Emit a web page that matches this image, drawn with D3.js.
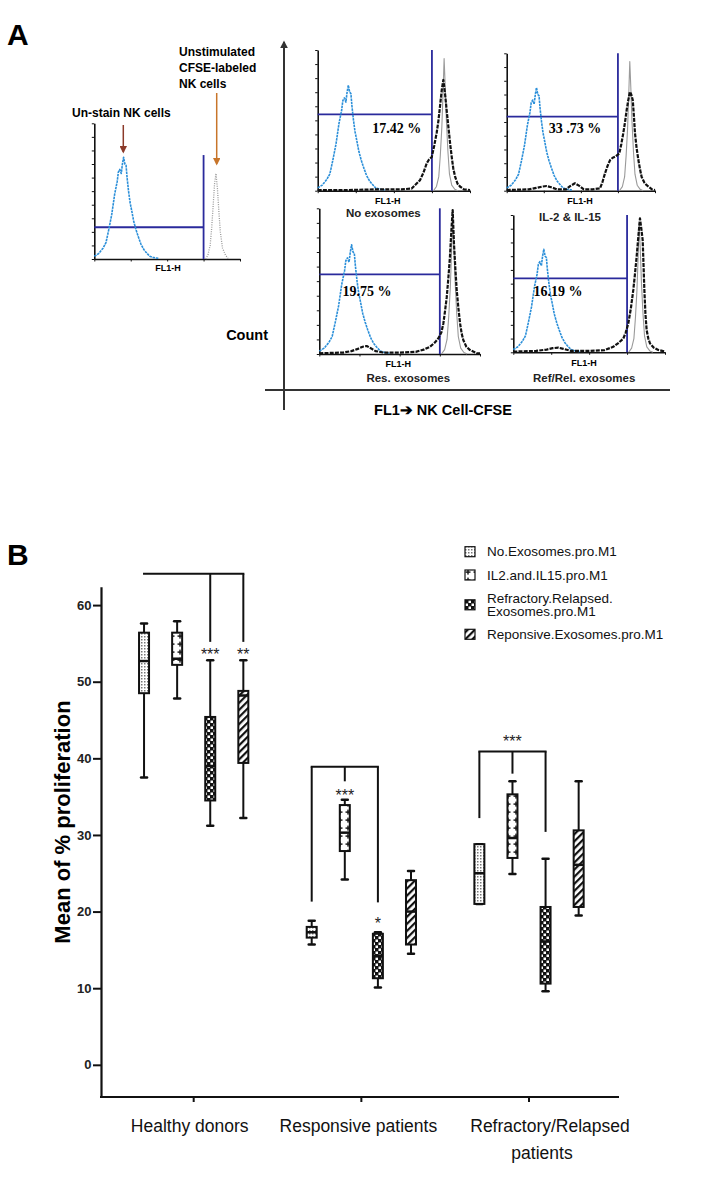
<!DOCTYPE html>
<html>
<head>
<meta charset="utf-8">
<script src="https://cdn.jsdelivr.net/npm/d3@7"></script>
<style>
body { margin: 0; background: #fff; }
svg { display: block; }
</style>
</head>
<body>
<svg width="703" height="1177"></svg>
<script>
// ---------- panel A : histogram traces, [channel 0-100, count 0-100]
var unstainedCounts = [[0,2],[3,4],[6,8],[8,12],[10,22],[12,33],[14,48],[15.7,57],[16.5,64],[17.5,66],[18.5,63],[19.3,70],[20.1,75],[21,70],[21.8,69],[22.5,60],[23.5,50],[24.5,42],[25.6,36],[27,28],[28.5,22],[30,17],[32,11],[34,7],[35.5,5],[38,2],[41,1],[44,0.5]];
var unstimLeftCounts = [[76.5,0],[78,3],[79.5,10],[80.5,22],[81.5,38],[82.5,55],[83.5,63],[84.5,52],[85.5,35],[86.5,20],[88,8],[90,3],[92,0]];
var unstimCounts = [[76,0],[78,3],[79.5,10],[80.5,25],[81.5,45],[82.3,70],[83,94],[83.7,75],[84.5,50],[85.5,28],[86.5,12],[88,4],[90,1],[92,0]];
var noExoCounts = [[0,0.5],[20,0.5],[40,1],[55,1],[61.7,1.5],[64,4],[67.2,7.5],[69.5,13],[71.6,19.5],[73,22],[74.9,24],[76.5,32],[78.1,41],[79.3,50],[80.3,60],[81.5,72],[82.5,78.7],[83.6,69],[84.7,57],[85.8,45.5],[87,33],[88,24],[89,16],[90.2,10],[91.8,5],[93.4,3],[96,1],[100,0.5]];
var il2Counts = [[0,0.5],[15,1],[20,2],[24,3],[27,3.4],[30,2.5],[34,1],[40,1],[43,3.5],[46,5.4],[49,3.5],[52,1],[58,1],[62.9,1.7],[64.5,6],[66.3,12.7],[68,18],[69.7,22.3],[71.5,24],[73,24.7],[75.9,27],[77.3,34],[78.6,41.8],[79.8,50],[80.9,58.7],[82,66],[83.1,72],[84,70],[85,66],[85.8,54],[86.5,41.8],[87.6,31],[88.8,22.3],[90,15],[91,10],[92.8,6],[94.4,4],[98,1],[100,0.5]];
var resExoCounts = [[0,0.5],[15,1],[20,2],[24,3.5],[27,5],[29.5,5.5],[32,4],[35,2],[40,1],[50,1],[60,1.5],[65,3],[68.9,5],[72,8],[74.1,10.8],[76,15],[77.2,21],[78.3,30],[79.3,39],[80.3,52],[81.3,66.8],[82.2,85],[83,98.8],[83.8,76],[84.7,58],[85.5,44],[86.6,31],[87.6,21],[88.6,14],[89.6,9.6],[91.5,5],[93.8,2.7],[98,0.5],[100,0.5]];
var refRelExoCounts = [[0,0.5],[15,1],[22,2],[26,3],[29.7,3.4],[33,2.5],[38,1],[50,1],[60,1.5],[65.9,4],[69,6.5],[72.5,10],[74,14],[75.8,21],[77.5,32],[79.1,45.4],[80.2,57],[81.3,69.6],[82.4,84],[83.5,97.5],[84.4,90],[85.3,81.5],[85.9,62],[86.4,45.4],[87.1,28],[87.9,16.2],[89,10],[90.1,6.5],[92.5,3.5],[95.6,1.7],[100,0.5]];
var panelTitles = ["No exosomes", "IL-2 & IL-15", "Res. exosomes", "Ref/Rel. exosomes"];
var panelPercents = ["17.42 %", "33 .73 %", "19.75 %", "16.19 %"];

// ---------- panel B : box plots, [min, q1, median, q3, max]
var groups = ["Healthy donors", "Responsive patients", "Refractory/Relapsed patients"];
var groupLabelLines = [["Healthy donors"], ["Responsive patients"], ["Refractory/Relapsed", "patients"]];
var series = ["No.Exosomes.pro.M1", "IL2.and.IL15.pro.M1", "Refractory.Relapsed.Exosomes.pro.M1", "Reponsive.Exosomes.pro.M1"];
var legendLines = [["No.Exosomes.pro.M1"], ["IL2.and.IL15.pro.M1"], ["Refractory.Relapsed.", "Exosomes.pro.M1"], ["Reponsive.Exosomes.pro.M1"]];
var healthyBoxes = [[37.5,48.5,52.7,56.4,57.6],[47.8,52.2,53.0,56.4,57.9],[31.2,34.5,39.0,45.4,52.8],[32.2,39.4,48.2,48.8,52.8]];
var responsiveBoxes = [[15.7,16.6,17.3,18.0,18.8],[24.2,27.9,30.3,33.9,34.6],[10.1,11.3,14.2,17.1,17.3],[14.5,15.7,20.0,24.1,25.3]];
var refractoryBoxes = [[21.0,21.0,25.0,28.8,28.8],[24.9,27.0,29.6,35.3,37.0],[9.6,10.6,16.1,20.6,26.9],[19.5,20.6,26.1,30.6,37.0]];
var yTicks = [0, 10, 20, 30, 40, 50, 60];
// significance brackets: group, first/last series, bar level, drop lines [series, end level]
var brackets = [
  {group: 0, from: 0, to: 3, level: 64.1, drops: [[2, 55.2], [3, 55.2]]},
  {group: 1, from: 0, to: 2, level: 38.9, drops: [[0, 21.3], [1, 37.0], [2, 21.2]]},
  {group: 2, from: 0, to: 2, level: 40.9, drops: [[0, 32.2], [1, 38.0], [2, 30.4]]}
];
var stars = [[0, 2, "***", 53.9], [0, 3, "**", 53.9], [1, 1, "***", 35.5], [1, 2, "*", 18.8], [2, 1, "***", 42.5]];

var FONT = "'Liberation Sans', Arial, sans-serif";
var svg = d3.select("svg");
var defs = svg.append("defs");

// ================= PANEL A =================
svg.append("text").attr("x", 7).attr("y", 45).text("A")
  .style("font", "bold 30px " + FONT);

var gateColor = "#2a2a9c";

var histPanels = [
  {x0: 94.3, x1: 240, y0: 123.3, y1: 259, gateY: 23.4, gateTop: 76.6,
   curves: [[unstainedCounts, "blue"], [unstimLeftCounts, "greyDot"]], lx: 168, ly: 268},
  {x0: 317.7, x1: 470, y0: 50, y1: 190.7, gateY: 54.3, gateTop: 100,
   curves: [[unstainedCounts, "blue"], [unstimCounts, "grey"], [noExoCounts, "black"]],
   lx: 387.7, ly: 201, tx: 383.3, ty: 213.3, px: 396.7, py: 128.3},
  {x0: 506.7, x1: 655, y0: 53.3, y1: 190.7, gateY: 53.9, gateTop: 100,
   curves: [[unstainedCounts, "blue"], [unstimCounts, "grey"], [il2Counts, "black"]],
   lx: 580, ly: 201, tx: 570, ty: 216.7, px: 575, py: 128.3},
  {x0: 319.3, x1: 480, y0: 208.3, y1: 354, gateY: 54.7, gateTop: 100,
   curves: [[unstainedCounts, "blue"], [unstimCounts, "grey"], [resExoCounts, "black"]],
   lx: 398.3, ly: 364, tx: 408.3, ty: 378.3, px: 367, py: 291.7},
  {x0: 513.3, x1: 665, y0: 215, y1: 352.3, gateY: 53.9, gateTop: 100,
   curves: [[unstainedCounts, "blue"], [unstimCounts, "grey"], [refRelExoCounts, "black"]],
   lx: 584, ly: 362.7, tx: 584.2, ty: 378.3, px: 558, py: 291.7}
];

var curveStyle = {
  blue:    {stroke: "#2b8fd9", width: 1.6, dash: "2.5,0.8"},
  black:   {stroke: "#111",    width: 2.2, dash: "4,1.2"},
  grey:    {stroke: "#9a9a9a", width: 1.1, dash: null},
  greyDot: {stroke: "#9a9a9a", width: 1.3, dash: "1,1.3"}
};

histPanels.forEach(function(p, i){
  var xs = d3.scaleLinear().domain([0, 100]).range([p.x0, p.x1]);
  var ys = d3.scaleLinear().domain([0, 100]).range([p.y1, p.y0]);
  var xLog = d3.scaleLog().domain([1, 10000]).range([p.x0, p.x1]);
  var g = svg.append("g").attr("class", "hist");

  // axes
  g.append("g").attr("transform", "translate(" + p.x0 + ",0)")
    .call(d3.axisLeft(ys).tickValues(d3.range(0, 101, 10)).tickSize(2.5).tickFormat("").tickSizeOuter(0));
  g.append("g").attr("transform", "translate(0," + p.y1 + ")")
    .call(d3.axisBottom(xLog).ticks(4).tickSize(2.5).tickFormat("").tickSizeOuter(0));
  g.selectAll(".domain").attr("stroke", "#111").attr("stroke-width", 1.6);
  g.selectAll(".tick line").attr("stroke", "#111").attr("stroke-width", 1);

  // gate marker
  g.append("line").attr("x1", xs(0)).attr("x2", xs(75)).attr("y1", ys(p.gateY)).attr("y2", ys(p.gateY))
    .attr("stroke", gateColor).attr("stroke-width", 1.8);
  g.append("line").attr("x1", xs(75)).attr("x2", xs(75)).attr("y1", ys(p.gateTop)).attr("y2", ys(0))
    .attr("stroke", gateColor).attr("stroke-width", 1.8);

  var line = d3.line().x(function(d){ return xs(d[0]); }).y(function(d){ return ys(d[1]); });
  p.curves.forEach(function(c){
    var st = curveStyle[c[1]];
    g.append("path").attr("d", line(c[0])).attr("fill", "none")
      .attr("stroke", st.stroke).attr("stroke-width", st.width)
      .attr("stroke-dasharray", st.dash).attr("stroke-linejoin", "round");
  });

  g.append("text").attr("x", p.lx).attr("y", p.ly).attr("text-anchor", "middle")
    .attr("dominant-baseline", "central").text("FL1-H").style("font", "bold 9px " + FONT);
  if (i > 0) {
    g.append("text").attr("x", p.tx).attr("y", p.ty).attr("text-anchor", "middle")
      .attr("dominant-baseline", "central").text(panelTitles[i - 1])
      .style("font", "bold 11.5px " + FONT).attr("fill", "#222");
    g.append("text").attr("x", p.px).attr("y", p.py).attr("text-anchor", "middle")
      .attr("dominant-baseline", "central").text(panelPercents[i - 1])
      .style("font", "bold 14px 'Liberation Serif', 'Times New Roman', serif");
  }
});

// annotations of the control histogram
var noteFont = "bold 12px " + FONT;
svg.append("text").attr("x", 72).attr("y", 117).text("Un-stain NK cells").style("font", noteFont);
svg.append("text").attr("x", 179).attr("y", 56).text("Unstimulated").style("font", noteFont);
svg.append("text").attr("x", 179).attr("y", 72).text("CFSE-labeled").style("font", noteFont);
svg.append("text").attr("x", 179).attr("y", 88).text("NK cells").style("font", noteFont);

function arrowDown(x, yA, yB, color, id){
  defs.append("marker").attr("id", id).attr("viewBox", "0 0 10 10").attr("refX", 8).attr("refY", 5)
    .attr("markerWidth", 5).attr("markerHeight", 5).attr("orient", "auto")
    .append("path").attr("d", "M0,0L10,5L0,10z").attr("fill", color);
  svg.append("line").attr("x1", x).attr("x2", x).attr("y1", yA).attr("y2", yB)
    .attr("stroke", color).attr("stroke-width", 1.5).attr("marker-end", "url(#" + id + ")");
}
arrowDown(123.3, 125, 152, "#8b3a2a", "arrBrown");
arrowDown(216.7, 93, 164, "#c8752a", "arrOrange");

// big frame axes of the four histograms
defs.append("marker").attr("id", "arrUp").attr("viewBox", "0 0 10 10").attr("refX", 8).attr("refY", 5)
  .attr("markerWidth", 4).attr("markerHeight", 4).attr("orient", "auto")
  .append("path").attr("d", "M0,0L10,5L0,10z").attr("fill", "#333");
svg.append("line").attr("x1", 284).attr("x2", 284).attr("y1", 410).attr("y2", 42)
  .attr("stroke", "#333").attr("stroke-width", 2).attr("marker-end", "url(#arrUp)");
svg.append("line").attr("x1", 265).attr("x2", 670).attr("y1", 390).attr("y2", 390)
  .attr("stroke", "#333").attr("stroke-width", 2);
svg.append("text").attr("x", 268).attr("y", 335).attr("text-anchor", "end")
  .attr("dominant-baseline", "central").text("Count").style("font", "bold 14.5px " + FONT);
svg.append("text").attr("x", 443).attr("y", 410).attr("text-anchor", "middle")
  .attr("dominant-baseline", "central").text("FL1\u2794 NK Cell-CFSE").style("font", "bold 14.5px " + FONT);

// ================= PANEL B =================
svg.append("text").attr("x", 7).attr("y", 565).text("B")
  .style("font", "bold 30px " + FONT);

// fill patterns
var pDot = defs.append("pattern").attr("id", "pDot").attr("patternUnits", "userSpaceOnUse")
  .attr("width", 3).attr("height", 3);
pDot.append("rect").attr("width", 3).attr("height", 3).attr("fill", "#fff");
pDot.append("rect").attr("width", 1.5).attr("height", 1.5).attr("fill", "#777");

var pPlus = defs.append("pattern").attr("id", "pPlus").attr("patternUnits", "userSpaceOnUse")
  .attr("width", 8).attr("height", 8);
pPlus.append("rect").attr("width", 8).attr("height", 8).attr("fill", "#fff");
pPlus.append("rect").attr("x", 1.5).attr("y", 3.4).attr("width", 5).attr("height", 1.4).attr("fill", "#111");
pPlus.append("rect").attr("x", 3.3).attr("y", 1.6).attr("width", 1.4).attr("height", 5).attr("fill", "#111");

var pCheck = defs.append("pattern").attr("id", "pCheck").attr("patternUnits", "userSpaceOnUse")
  .attr("width", 6).attr("height", 6);
pCheck.append("rect").attr("width", 6).attr("height", 6).attr("fill", "#111");
pCheck.append("rect").attr("x", 0.5).attr("y", 0.5).attr("width", 2.5).attr("height", 2.5).attr("fill", "#fff");
pCheck.append("rect").attr("x", 3.5).attr("y", 3.5).attr("width", 2.5).attr("height", 2.5).attr("fill", "#fff");

var pHatch = defs.append("pattern").attr("id", "pHatch").attr("patternUnits", "userSpaceOnUse")
  .attr("width", 5).attr("height", 5).attr("patternTransform", "rotate(45)");
pHatch.append("rect").attr("width", 5).attr("height", 5).attr("fill", "#fff");
pHatch.append("rect").attr("width", 2.2).attr("height", 5).attr("fill", "#111");

var fills = ["url(#pDot)", "url(#pPlus)", "url(#pCheck)", "url(#pHatch)"];

var y = d3.scaleLinear().domain([-4.2, 62.4]).range([1097, 586.7]);
var x0 = d3.scaleBand().domain(groups).range([109.85, 612.85]);
var x1 = d3.scalePoint().domain(series).range([0, x0.bandwidth()]).padding(1.033);
function bx(gi, si){ return x0(groups[gi]) + x1(series[si]); }

// y axis
var yAxis = svg.append("g").attr("transform", "translate(101,0)")
  .call(d3.axisLeft(y).tickValues(yTicks).tickSize(8).tickPadding(1.5).tickSizeOuter(0));
yAxis.select(".domain").attr("stroke", "#111").attr("stroke-width", 2.2);
yAxis.selectAll(".tick line").attr("stroke", "#111").attr("stroke-width", 2);
yAxis.selectAll(".tick text").style("font", "bold 13px " + FONT).attr("fill", "#222");

svg.append("text").attr("transform", "translate(62,822) rotate(-90)")
  .attr("text-anchor", "middle").attr("dominant-baseline", "central")
  .text("Mean of % proliferation").style("font", "bold 22px " + FONT);

// x axis
var xAxis = svg.append("g").attr("transform", "translate(0,1097)")
  .call(d3.axisBottom(x0).tickSize(5).tickFormat(""));
xAxis.select(".domain").remove();
xAxis.selectAll(".tick line").attr("stroke", "#111").attr("stroke-width", 2);
svg.append("line").attr("x1", 100).attr("x2", 619).attr("y1", 1097).attr("y2", 1097)
  .attr("stroke", "#111").attr("stroke-width", 2.2);

var labelShift = [[-4], [-3], [21, 13]];
groupLabelLines.forEach(function(lines, gi){
  var cx = x0(groups[gi]) + x0.bandwidth() / 2;
  lines.forEach(function(t, li){
    svg.append("text").attr("x", cx + labelShift[gi][li]).attr("y", 1132 + li * 27)
      .attr("text-anchor", "middle").text(t).style("font", "17.5px " + FONT).attr("fill", "#111");
  });
});

// boxes
var allBoxes = [healthyBoxes, responsiveBoxes, refractoryBoxes];
var boxW = 10, capW = 6;
allBoxes.forEach(function(groupBoxes, gi){
  var gg = svg.append("g").attr("class", "group");
  gg.selectAll("g.box").data(groupBoxes).enter().append("g").attr("class", "box")
    .each(function(d, si){
      var b = d3.select(this), cx = bx(gi, si);
      b.append("line").attr("x1", cx).attr("x2", cx).attr("y1", y(d[0])).attr("y2", y(d[4]))
        .attr("stroke", "#111").attr("stroke-width", 2);
      [d[0], d[4]].forEach(function(v){
        b.append("line").attr("x1", cx - capW / 2).attr("x2", cx + capW / 2).attr("y1", y(v)).attr("y2", y(v))
          .attr("stroke", "#111").attr("stroke-width", 2.5).attr("stroke-linecap", "round");
      });
      b.append("rect").attr("x", cx - boxW / 2).attr("y", y(d[3])).attr("width", boxW)
        .attr("height", Math.max(1, y(d[1]) - y(d[3]))).attr("fill", fills[si])
        .attr("stroke", "#111").attr("stroke-width", 2);
      b.append("line").attr("x1", cx - boxW / 2).attr("x2", cx + boxW / 2).attr("y1", y(d[2])).attr("y2", y(d[2]))
        .attr("stroke", "#111").attr("stroke-width", 2.5);
    });
});

// significance brackets
brackets.forEach(function(br){
  svg.append("line").attr("x1", bx(br.group, br.from) - 1).attr("x2", bx(br.group, br.to) + 1)
    .attr("y1", y(br.level)).attr("y2", y(br.level)).attr("stroke", "#111").attr("stroke-width", 2);
  br.drops.forEach(function(dp){
    svg.append("line").attr("x1", bx(br.group, dp[0])).attr("x2", bx(br.group, dp[0]))
      .attr("y1", y(br.level)).attr("y2", y(dp[1])).attr("stroke", "#111").attr("stroke-width", 2);
  });
});
stars.forEach(function(s){
  svg.append("text").attr("x", bx(s[0], s[1])).attr("y", y(s[3]) + 8).attr("text-anchor", "middle")
    .text(s[2]).style("font", "16px " + FONT).attr("fill", "#222");
});

// legend
var legendRowY = [551.7, 575, 598, 634.3];
legendLines.forEach(function(lines, i){
  var iconY = legendRowY[i] + (lines.length - 1) * 6.8;
  svg.append("rect").attr("x", 465).attr("y", iconY - 5).attr("width", 10).attr("height", 10)
    .attr("fill", fills[i]).attr("stroke", "#111").attr("stroke-width", 1.2);
  lines.forEach(function(t, li){
    svg.append("text").attr("x", 487).attr("y", legendRowY[i] + li * 13.7)
      .attr("dominant-baseline", "central").text(t).style("font", "13.5px " + FONT).attr("fill", "#111");
  });
});
</script>
</body>
</html>
